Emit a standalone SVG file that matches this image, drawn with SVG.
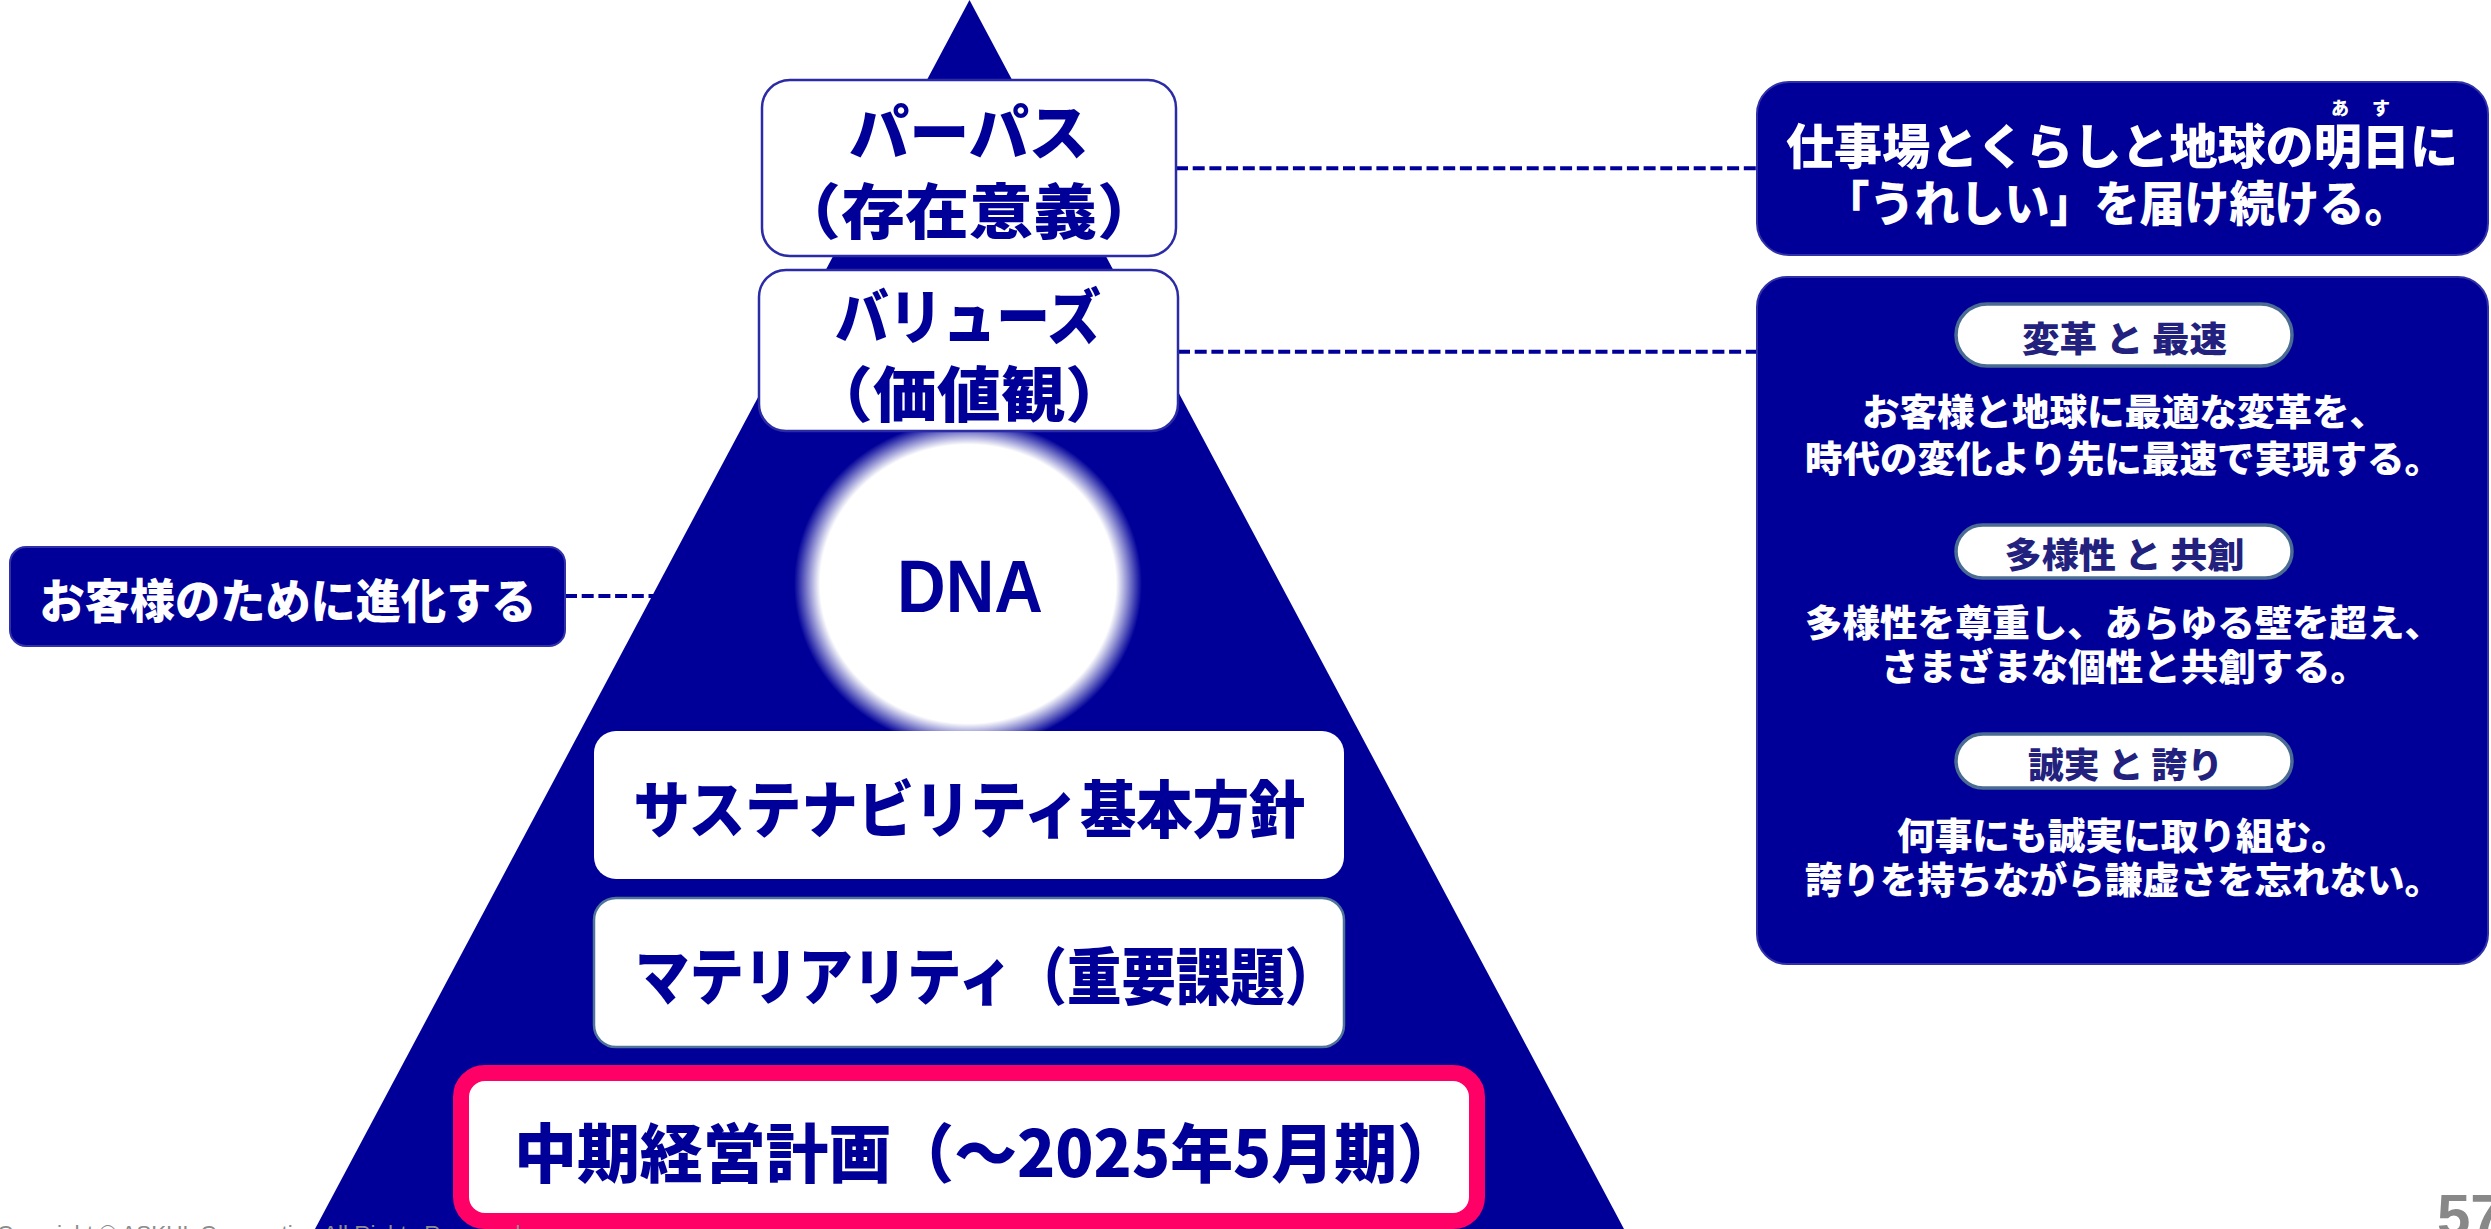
<svg xmlns="http://www.w3.org/2000/svg" width="2491" height="1229" viewBox="0 0 2491 1229">
  <defs>
    <style>
      .jp { font-family: "Noto Sans CJK JP", "Noto Sans CJK SC", sans-serif; font-weight: 900; text-anchor: middle; }
      .navy { fill: #000099; }
      .wt { fill: #ffffff; }
      .pilltxt { fill: #22227e; }
      .wbox { fill: #ffffff; stroke: #2b2ba6; stroke-width: 2.5; }
      .slate { fill: #ffffff; stroke: #4f7499; stroke-width: 2.5; }
      .panel { fill: #000099; stroke: #3030a8; stroke-width: 2; }
      .pill { fill: #ffffff; stroke: #4a6c92; stroke-width: 3.5; }
      .dash { fill: none; stroke: #000099; stroke-width: 4; stroke-dasharray: 12 4.7; }
      .lat { font-family: "Liberation Sans", Arial, sans-serif; }
    </style>
    <radialGradient id="glow" cx="0.5" cy="0.5" r="0.5">
      <stop offset="0" stop-color="#ffffff" stop-opacity="1"/>
      <stop offset="0.85" stop-color="#ffffff" stop-opacity="1"/>
      <stop offset="1" stop-color="#ffffff" stop-opacity="0"/>
    </radialGradient>
  </defs>

  <rect width="2491" height="1229" fill="#ffffff"/>

  <g id="pyramid">
    <polygon points="969.5,0 1624,1229 315,1229" fill="#000099"/>
  </g>

  <g id="connectors">
    <line class="dash" x1="1176" y1="168.3" x2="1757" y2="168.3"/>
    <line class="dash" x1="1178" y1="351.7" x2="1757" y2="351.7"/>
    <line class="dash" x1="565" y1="596" x2="654" y2="596"/>
  </g>

  <g id="dna">
    <ellipse cx="968" cy="584" rx="174" ry="164" fill="url(#glow)"/>
    <text class="lat navy" x="970" y="612" font-size="74" font-weight="700" text-anchor="middle" textLength="146" lengthAdjust="spacingAndGlyphs">DNA</text>
  </g>

  <g id="purpose">
    <rect class="wbox" x="762" y="80" width="414" height="176" rx="28"/>
    <text class="jp navy" x="969" y="155" font-size="60" textLength="240" lengthAdjust="spacingAndGlyphs">パーパス</text>
    <text class="jp navy" x="969" y="234" font-size="60" textLength="384" lengthAdjust="spacingAndGlyphs">（存在意義）</text>
  </g>

  <g id="values">
    <rect class="wbox" x="759" y="270" width="419" height="161" rx="27"/>
    <text class="jp navy" x="968" y="339" font-size="60" textLength="266" lengthAdjust="spacingAndGlyphs">バリューズ</text>
    <text class="jp navy" x="969" y="417" font-size="60" textLength="320" lengthAdjust="spacingAndGlyphs">（価値観）</text>
  </g>

  <g id="sustainability">
    <rect x="594" y="731" width="750" height="148" rx="22" fill="#ffffff"/>
    <text class="jp navy" x="969.5" y="833" font-size="62" textLength="672" lengthAdjust="spacingAndGlyphs">サステナビリティ基本方針</text>
  </g>

  <g id="materiality">
    <rect class="slate" x="594" y="898" width="750" height="149" rx="22"/>
    <text class="jp navy" x="987" y="1000" font-size="62" textLength="704" lengthAdjust="spacingAndGlyphs">マテリアリティ（重要課題）</text>
  </g>

  <g id="midterm-plan">
    <rect x="461" y="1073" width="1016" height="148" rx="24" fill="#ffffff" stroke="#ff0066" stroke-width="16"/>
    <text class="jp navy" x="987" y="1177" font-size="64" textLength="946" lengthAdjust="spacingAndGlyphs">中期経営計画（～2025年5月期）</text>
  </g>

  <g id="dna-label">
    <rect class="panel" x="10" y="547" width="555" height="99" rx="16"/>
    <text class="jp wt" x="288" y="618" font-size="47" textLength="497" lengthAdjust="spacingAndGlyphs">お客様のために進化する</text>
  </g>

  <g id="purpose-statement">
    <rect class="panel" x="1757" y="82" width="731" height="173" rx="32"/>
    <text class="jp wt" font-size="18"><tspan x="2340" y="115">あ</tspan><tspan x="2381" y="115">す</tspan></text>
    <text class="jp wt" x="2122" y="164" font-size="48" textLength="672" lengthAdjust="spacingAndGlyphs">仕事場とくらしと地球の明日に</text>
    <text class="jp wt" x="2117" y="221" font-size="48" textLength="585" lengthAdjust="spacingAndGlyphs">「うれしい」を届け続ける。</text>
  </g>

  <g id="values-statement">
    <rect class="panel" x="1757" y="277" width="731" height="687" rx="30"/>
    <rect class="pill" x="1956" y="304" width="336" height="62" rx="31"/>
    <text class="jp pilltxt" x="2124.5" y="352" font-size="35" textLength="205" lengthAdjust="spacingAndGlyphs">変革 と 最速</text>
    <text class="jp wt" x="2124.5" y="426" font-size="37" textLength="525" lengthAdjust="spacingAndGlyphs">お客様と地球に最適な変革を、</text>
    <text class="jp wt" x="2123.5" y="472.5" font-size="37" textLength="637" lengthAdjust="spacingAndGlyphs">時代の変化より先に最速で実現する。</text>

    <rect class="pill" x="1956" y="525" width="336" height="53" rx="26.5"/>
    <text class="jp pilltxt" x="2124.5" y="568" font-size="35" textLength="240" lengthAdjust="spacingAndGlyphs">多様性 と 共創</text>
    <text class="jp wt" x="2123.5" y="636.5" font-size="37" textLength="637" lengthAdjust="spacingAndGlyphs">多様性を尊重し、あらゆる壁を超え、</text>
    <text class="jp wt" x="2124.5" y="680.5" font-size="37" textLength="487" lengthAdjust="spacingAndGlyphs">さまざまな個性と共創する。</text>

    <rect class="pill" x="1956" y="734" width="336" height="54" rx="27"/>
    <text class="jp pilltxt" x="2125.5" y="778" font-size="35" textLength="195" lengthAdjust="spacingAndGlyphs">誠実 と 誇り</text>
    <text class="jp wt" x="2123" y="849.5" font-size="37" textLength="452" lengthAdjust="spacingAndGlyphs">何事にも誠実に取り組む。</text>
    <text class="jp wt" x="2123.5" y="893.5" font-size="37" textLength="637" lengthAdjust="spacingAndGlyphs">誇りを持ちながら謙虚さを忘れない。</text>
  </g>

  <g id="footer">
    <text class="lat" x="-3" y="1241" font-size="22.5" fill="#8c8c8c">Copyright © ASKUL Corporation All Rights Reserved.</text>
    <text class="lat" x="2437" y="1236" font-size="60" font-weight="700" fill="#888888">57</text>
  </g>
</svg>
